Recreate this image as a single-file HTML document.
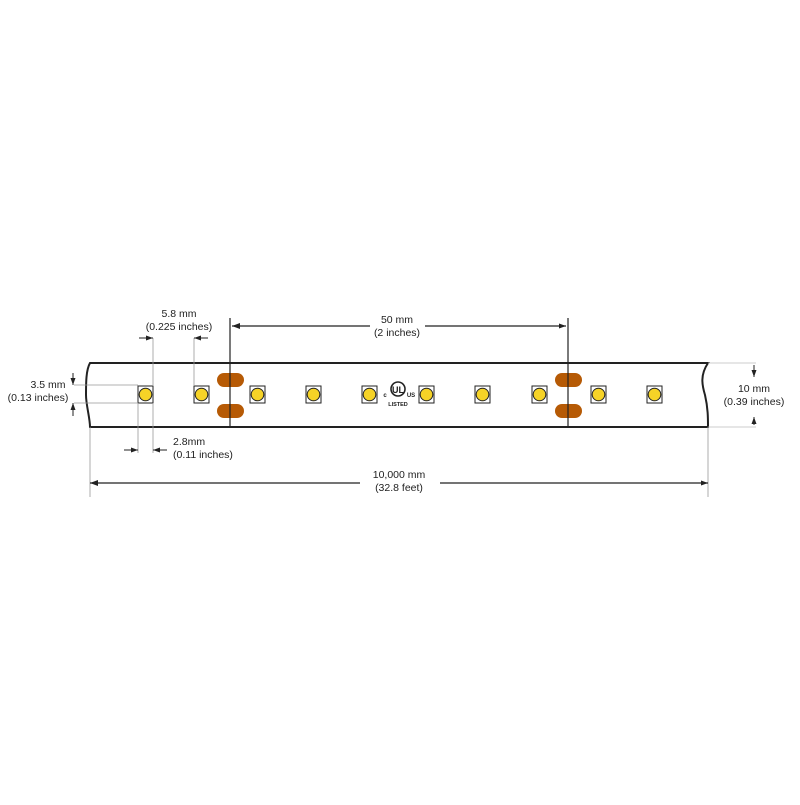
<!DOCTYPE html>
<html><head><style>body{margin:0;background:#fff}</style></head><body>
<svg width="800" height="800" viewBox="0 0 800 800" xmlns="http://www.w3.org/2000/svg" font-family="Liberation Sans, sans-serif" font-size="10.5" fill="#222">
<defs>
<marker id="a" markerWidth="7" markerHeight="5" refX="7" refY="2.5" orient="auto" markerUnits="userSpaceOnUse"><path d="M0,0L7,2.5L0,5z" fill="#222"/></marker>
</defs>
<path d="M90,363 L708,363 C700,375 702,385 705,395 C708,408 708,418 708,427 L90,427 C90,418 86,405 86,395 C86,383 86,370 90,363 Z" fill="#fff" stroke="#222" stroke-width="2"/>
<g fill="#b65a05">
<rect x="217" y="373" width="27" height="14" rx="7"/><rect x="217" y="404" width="27" height="14" rx="7"/>
<rect x="555" y="373" width="27" height="14" rx="7"/><rect x="555" y="404" width="27" height="14" rx="7"/>
</g>
<line x1="230" y1="318" x2="230" y2="427" stroke="#222" stroke-width="1.2"/>
<line x1="568" y1="318" x2="568" y2="427" stroke="#222" stroke-width="1.2"/>
<g stroke="#222" stroke-width="1">
<g id="l"><rect x="138" y="386" width="15" height="17" fill="#fff"/><circle cx="145.5" cy="394.5" r="6.3" fill="#f6d327"/></g>
<use href="#l" x="56"/><use href="#l" x="112"/><use href="#l" x="168"/><use href="#l" x="224"/><use href="#l" x="281"/><use href="#l" x="337"/><use href="#l" x="394"/><use href="#l" x="453"/><use href="#l" x="509"/>
</g>
<circle cx="398" cy="389" r="7" fill="none" stroke="#222" stroke-width="1.6"/>
<text x="398" y="393" font-size="9" font-weight="bold" text-anchor="middle">UL</text>
<text x="385" y="397" font-size="6" font-weight="bold" text-anchor="middle">c</text>
<text x="411" y="397" font-size="6" font-weight="bold" text-anchor="middle">US</text>
<text x="398" y="406" font-size="5.5" font-weight="bold" text-anchor="middle">LISTED</text>
<line x1="232" y1="326" x2="370" y2="326" stroke="#222" stroke-width="1.2"/>
<path d="M232,326 L240,323 L240,329z" fill="#222"/>
<line x1="425" y1="326" x2="566" y2="326" stroke="#222" stroke-width="1.2" marker-end="url(#a)"/>
<text x="397" y="323" text-anchor="middle">50 mm</text>
<text x="397" y="336" text-anchor="middle">(2 inches)</text>
<g stroke="#999" stroke-width="0.8"><line x1="153" y1="338" x2="153" y2="386"/><line x1="194" y1="338" x2="194" y2="386"/></g>
<line x1="139" y1="338" x2="153" y2="338" stroke="#222" marker-end="url(#a)"/>
<line x1="208" y1="338" x2="194" y2="338" stroke="#222" marker-end="url(#a)"/>
<text x="179" y="317" text-anchor="middle">5.8 mm</text>
<text x="179" y="330" text-anchor="middle">(0.225 inches)</text>
<g stroke="#999" stroke-width="0.8"><line x1="74" y1="385" x2="138" y2="385"/><line x1="74" y1="403" x2="138" y2="403"/></g>
<line x1="73" y1="373" x2="73" y2="385" stroke="#222" marker-end="url(#a)"/>
<line x1="73" y1="416" x2="73" y2="403" stroke="#222" marker-end="url(#a)"/>
<text x="48" y="388" text-anchor="middle">3.5 mm</text>
<text x="38" y="401" text-anchor="middle">(0.13 inches)</text>
<g stroke="#999" stroke-width="0.8"><line x1="138" y1="403" x2="138" y2="453"/><line x1="153" y1="403" x2="153" y2="453"/></g>
<line x1="124" y1="450" x2="138" y2="450" stroke="#222" marker-end="url(#a)"/>
<line x1="167" y1="450" x2="153" y2="450" stroke="#222" marker-end="url(#a)"/>
<text x="173" y="445">2.8mm</text>
<text x="173" y="458">(0.11 inches)</text>
<g stroke="#999" stroke-width="0.8"><line x1="90" y1="427" x2="90" y2="497"/><line x1="708" y1="427" x2="708" y2="497"/></g>
<line x1="90" y1="483" x2="360" y2="483" stroke="#222" stroke-width="1.2"/>
<path d="M90,483 L98,480 L98,486z" fill="#222"/>
<line x1="440" y1="483" x2="708" y2="483" stroke="#222" stroke-width="1.2" marker-end="url(#a)"/>
<text x="399" y="478" text-anchor="middle">10,000 mm</text>
<text x="399" y="491" text-anchor="middle">(32.8 feet)</text>
<g stroke="#bbb" stroke-width="0.8"><line x1="708" y1="363" x2="756" y2="363"/><line x1="708" y1="427" x2="756" y2="427"/></g>
<line x1="754" y1="365" x2="754" y2="377" stroke="#222" marker-end="url(#a)"/>
<line x1="754" y1="425" x2="754" y2="417" stroke="#222" marker-end="url(#a)"/>
<text x="754" y="392" text-anchor="middle">10 mm</text>
<text x="754" y="405" text-anchor="middle">(0.39 inches)</text>
</svg>
</body></html>
